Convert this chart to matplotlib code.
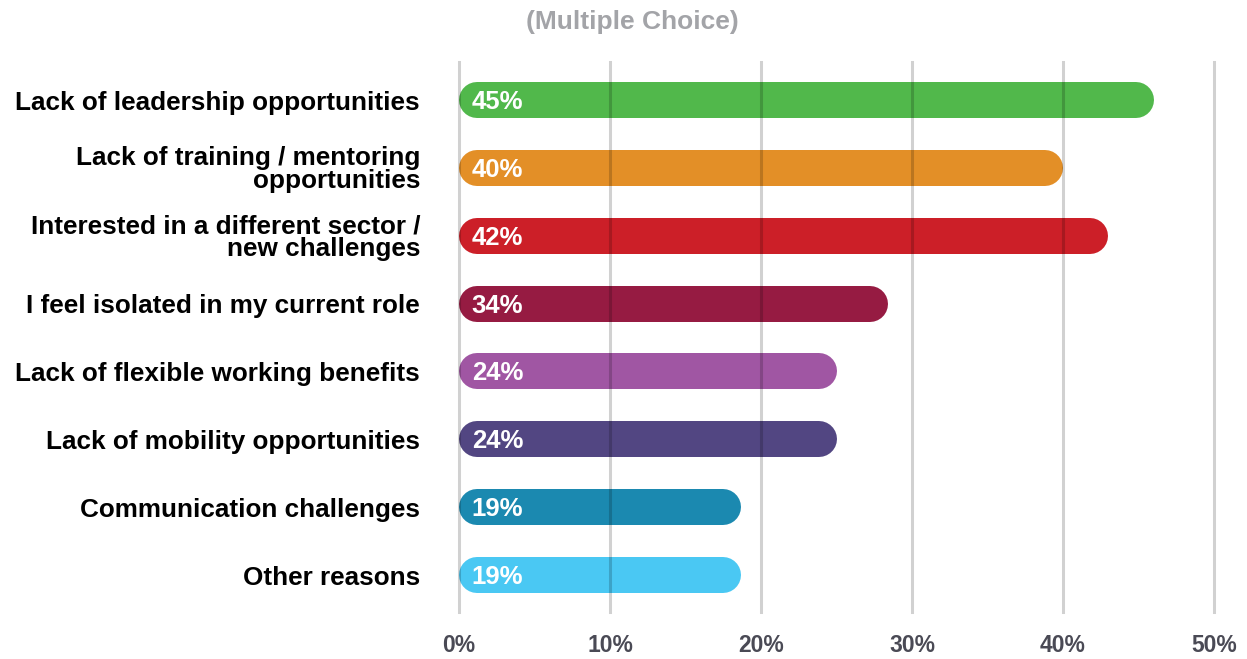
import matplotlib.pyplot as plt

categories = [
    "Lack of leadership opportunities",
    "Lack of training / mentoring\nopportunities",
    "Interested in a different sector /\nnew challenges",
    "I feel isolated in my current role",
    "Lack of flexible working benefits",
    "Lack of mobility opportunities",
    "Communication challenges",
    "Other reasons",
]
# bar lengths as drawn, and the labels printed on them
lengths = [46.0, 40.0, 43.0, 28.4, 25.0, 25.0, 18.7, 18.7]
labels = ["45%", "40%", "42%", "34%", "24%", "24%", "19%", "19%"]
colors = ["#51b84b", "#e38f27", "#cc1f28", "#961b42",
          "#a056a3", "#524682", "#1b89b0", "#4ac8f3"]
ticks = [0, 10, 20, 30, 40, 50]
tick_labels = ["0%", "10%", "20%", "30%", "40%", "50%"]

W, H, DPI = 1247, 659, 100
fig = plt.figure(figsize=(W / DPI, H / DPI), dpi=DPI)
ax = fig.add_axes([459 / W, 1 - 612 / H, (1214 - 459) / W, 550 / H])
ax.set_xlim(0, 50)
ax.set_ylim(7.545, -0.56)

# bar thickness in pixels -> round-capped line
bar_px = 36
lw = bar_px * 72 / DPI
ax_w_px = (1214 - 459)
r = (bar_px / 2) * 50 / ax_w_px

for i, (v, c) in enumerate(zip(lengths, colors)):
    ax.plot([r, v - r], [i, i], color=c, lw=lw, solid_capstyle="round", zorder=2)
    ax.text(0.85, i + 0.03, labels[i], color="white", fontsize=18.5, fontweight="bold",
            family="Liberation Sans", va="center", ha="left", zorder=4)

for t in ticks:
    ax.axvline(t, color="black", alpha=0.18, lw=2.2, zorder=3, clip_on=False)

ax.set_yticks(range(len(categories)))
ax.set_yticklabels(categories, fontsize=18.8, fontweight="bold",
                   family="Liberation Sans", linespacing=0.95)
ax.tick_params(axis="y", length=0, pad=28)
ax.set_xticks(ticks)
ax.set_xticklabels(tick_labels, fontsize=16.5, fontweight="bold", color="#4a4a55",
                   family="Liberation Sans")
ax.tick_params(axis="x", length=0, pad=16)
for s in ax.spines.values():
    s.set_visible(False)

fig.text(632 / W, 1 - 22 / H, "(Multiple Choice)", color="#a3a4a8", fontsize=19,
         fontweight="bold", family="Liberation Sans", ha="center", va="center")

fig.savefig("out.png", dpi=DPI)
